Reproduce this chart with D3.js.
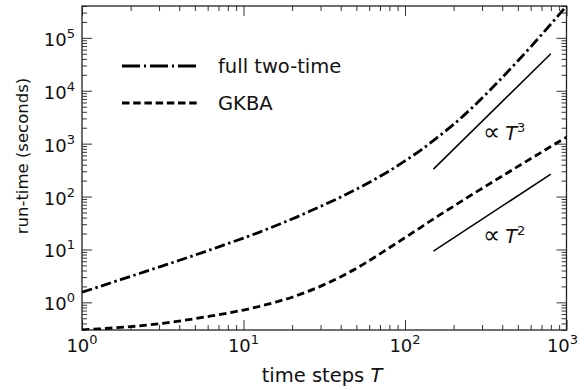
<!DOCTYPE html>
<meta charset="utf-8">
<title>run-time vs time steps</title>
<style>
body { margin: 0; background: #fff; }
text { font-family: "DejaVu Sans", sans-serif; fill: #111; }
.frame { fill: none; stroke: #222; stroke-width: 1.3px; }
.tick line { stroke: #333; stroke-width: 1px; }
</style>
<svg width="588" height="390"></svg>
<script src="https://d3js.org/d3.v7.min.js"></script>
<script>
// time steps T (same grid for both runs)
var steps = [1, 1.26, 1.58, 2, 2.51, 3.16, 3.98, 5.01, 6.31, 7.94, 10, 12.6, 15.8, 20, 25.1, 31.6,
             39.8, 50.1, 63.1, 79.4, 100, 126, 158, 200, 251, 316, 398, 501, 631, 794, 1000];

// full two-time run-time (seconds)
var fullY = [1.55, 1.95, 2.45, 3.09, 3.89, 4.9, 6.18, 7.83, 9.98, 12.8, 16.4, 21.3, 28.1, 37.6, 51.1, 70,
             97, 138, 201, 302, 471, 764, 1300, 2310, 4300, 8500, 17500, 37000, 80000, 177000, 401000];

// GKBA run-time (seconds)
var gkbaY = [0.302, 0.314, 0.329, 0.347, 0.37, 0.401, 0.442, 0.492, 0.552, 0.624, 0.716, 0.841, 1.01, 1.25, 1.61, 2.16,
             3.02, 4.42, 6.76, 10.6, 16.7, 26.5, 41.8, 65.5, 102, 157, 242, 372, 569, 871, 1330];

// guide lines
var guideT = [150, 800];
var cubeY = [330, 50000];
var squareY = [9.3, 265];

var xTickExp = [0, 1, 2, 3];
var yTickExp = [0, 1, 2, 3, 4, 5];

var svg = d3.select("svg");
var mLeft = 82, mRight = 566.5, mTop = 6, mBottom = 330;

var x = d3.scaleLog().domain([1, 1000]).range([mLeft, mRight]);
var y = d3.scaleLog().domain([0.3, 4e5]).range([mBottom, mTop]);

// minor tick values
var xMinor = [], yMinor = [];
for (var e = 0; e < 3; e++) for (var m = 2; m < 10; m++) xMinor.push(m * Math.pow(10, e));
for (var e = -1; e < 6; e++) for (var m = 2; m < 10; m++) {
  var v = m * Math.pow(10, e);
  if (v >= 0.3 && v <= 4e5) yMinor.push(v);
}
var xMajor = xTickExp.map(function(k) { return Math.pow(10, k); });
var yMajor = yTickExp.map(function(k) { return Math.pow(10, k); });

function tickSet(axisFn, scale, vals, len, tx, ty) {
  svg.append("g").attr("transform", "translate(" + tx + "," + ty + ")")
    .call(axisFn(scale).tickValues(vals).tickSize(len).tickFormat(""))
    .call(function(g) { g.select(".domain").remove(); });
}

// inward ticks on all four sides
tickSet(d3.axisTop, x, xMajor, 10, 0, mBottom);
tickSet(d3.axisTop, x, xMinor, 5, 0, mBottom);
tickSet(d3.axisBottom, x, xMajor, 10, 0, mTop);
tickSet(d3.axisBottom, x, xMinor, 5, 0, mTop);
tickSet(d3.axisRight, y, yMajor, 10, mLeft, 0);
tickSet(d3.axisRight, y, yMinor, 5, mLeft, 0);
tickSet(d3.axisLeft, y, yMajor, 10, mRight, 0);
tickSet(d3.axisLeft, y, yMinor, 5, mRight, 0);

svg.append("rect").attr("class", "frame")
  .attr("x", mLeft).attr("y", mTop)
  .attr("width", mRight - mLeft).attr("height", mBottom - mTop);

// tick labels 10^k
xTickExp.forEach(function(k) {
  var t = svg.append("text")
    .attr("x", x(Math.pow(10, k)) + (k === 3 ? -4 : 0)).attr("y", 352)
    .attr("text-anchor", "middle").style("font-size", "18px");
  t.append("tspan").text("10");
  t.append("tspan").attr("dy", -8).style("font-size", "13px").text(k);
});
yTickExp.forEach(function(k) {
  var t = svg.append("text")
    .attr("x", 75).attr("y", y(Math.pow(10, k)) + 8)
    .attr("text-anchor", "end").style("font-size", "18px");
  t.append("tspan").text("10");
  t.append("tspan").attr("dy", -8).style("font-size", "13px").text(k);
});

// axis labels
var xl = svg.append("text").attr("x", 322).attr("y", 382)
  .attr("text-anchor", "middle").style("font-size", "19.5px");
xl.append("tspan").text("time steps ");
xl.append("tspan").style("font-style", "italic").text("T");

svg.append("text")
  .attr("transform", "translate(28,156) rotate(-90)")
  .attr("text-anchor", "middle").style("font-size", "16.5px")
  .text("run-time (seconds)");

svg.append("clipPath").attr("id", "clip")
  .append("rect").attr("x", mLeft).attr("y", mTop)
  .attr("width", mRight - mLeft).attr("height", mBottom - mTop);

var line = d3.line().curve(d3.curveMonotoneX)
  .x(function(d) { return x(d[0]); })
  .y(function(d) { return y(d[1]); });

var plot = svg.append("g").attr("clip-path", "url(#clip)");

plot.append("path")
  .datum(d3.zip(steps, fullY))
  .attr("d", line)
  .attr("fill", "none").attr("stroke", "#000")
  .attr("stroke-width", 2.8)
  .attr("stroke-dasharray", "10.5,3.5,2.5,3.5");

plot.append("path")
  .datum(d3.zip(steps, gkbaY))
  .attr("d", line)
  .attr("fill", "none").attr("stroke", "#000")
  .attr("stroke-width", 2.8)
  .attr("stroke-dasharray", "7.5,4");

[cubeY, squareY].forEach(function(ys) {
  plot.append("path")
    .datum(d3.zip(guideT, ys))
    .attr("d", d3.line().x(function(d) { return x(d[0]); }).y(function(d) { return y(d[1]); }))
    .attr("fill", "none").attr("stroke", "#000").attr("stroke-width", 1.5);
});

function propLabel(px, py, p) {
  var t = svg.append("text").attr("x", px).attr("y", py).style("font-size", "19.5px");
  t.append("tspan").style("font-size", "24px").text("\u221D");
  t.append("tspan").attr("dx", 5).style("font-style", "italic").text("T");
  t.append("tspan").attr("dy", -8).style("font-size", "13px").text(p);
}
propLabel(483, 140, 3);
propLabel(483, 243, 2);

// legend
var legend = [
  { name: "full two-time", dash: "18,4,2,4", y: 66 },
  { name: "GKBA", dash: "7.5,3.7", y: 103 }
];
legend.forEach(function(d) {
  svg.append("line")
    .attr("x1", 122).attr("x2", 200).attr("y1", d.y).attr("y2", d.y)
    .attr("stroke", "#000").attr("stroke-width", 2.8)
    .attr("stroke-dasharray", d.dash);
  svg.append("text").attr("x", 218).attr("y", d.y + 7)
    .style("font-size", "19.5px").text(d.name);
});
</script>
